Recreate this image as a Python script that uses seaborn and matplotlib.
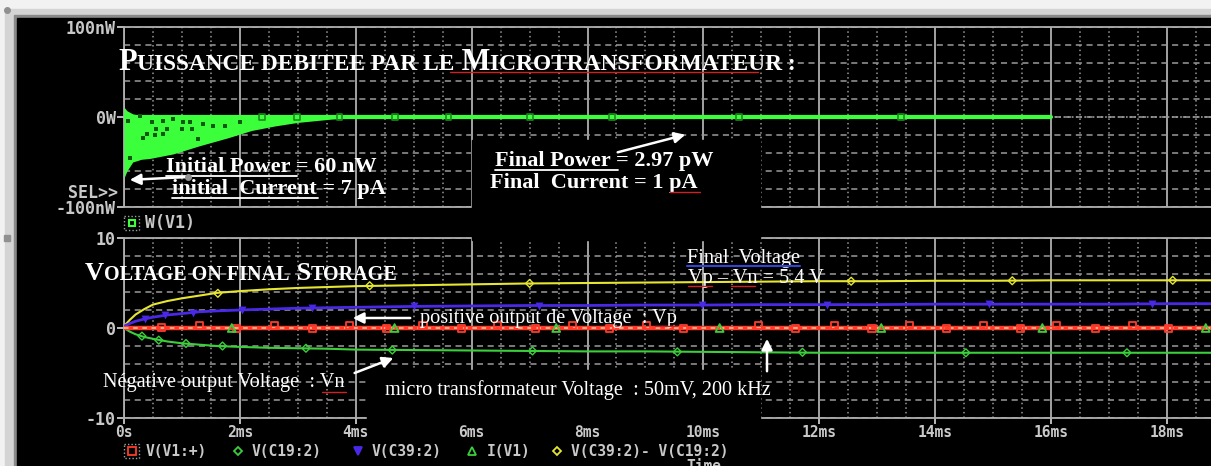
import matplotlib
matplotlib.use("Agg")
import matplotlib.pyplot as plt
import seaborn as sns
import pandas as pd
from matplotlib.patches import Rectangle
from matplotlib.ticker import MultipleLocator
from matplotlib.offsetbox import TextArea, HPacker, AnnotationBbox

# ---------------- data (time in ms) ----------------
# top panel W(V1): envelope of the 200 kHz power ripple, nW
p_time = [0, 0.05, 0.15, 0.3, 0.45, 0.85, 1.3, 1.8, 2.2, 2.6, 3.0, 3.6, 4.0, 4.5]
p_upper = [11, 7, 3.5, 1.5, 1.0, 0.8, 0.6, 0.5, 0.4, 0.3, 0.3, 0.2, 0.1, 0.0]
p_lower = [-68, -60, -50, -47, -46, -41, -32, -23, -15, -10, -6, -2.2, -1.0, -0.3]
p_line_time = [0, 16.0]
p_line = [0, 0]
p_mark_t = [2.38, 2.98, 3.72, 4.67, 5.6, 7.0, 8.43, 10.62, 13.41]
p_mark_v = [0, 0, 0, 0, 0, 0, 0, 0, 0]
# dark sample markers drawn inside the filled ripple
p_dot_t = [0.07, 0.28, 0.48, 0.68, 0.85, 1.01, 1.14, 1.37, 1.54, 1.74, 2.0,
           0.56, 0.74, 1.0, 1.17, 0.39, 0.54, 0.68, 0.33, 1.28, 0.1]
p_dot_v = [-4, 1, -5, -4, -2, -6, -6, -8, -10, -10, -6,
           -13, -13, -13, -13, -19, -20, -19, -23, -24, -46]

# bottom panel voltages, V
v_time = [0, 0.1, 0.2, 0.35, 0.5, 0.75, 1.0, 1.3, 1.6, 2.0, 2.5, 3.0, 3.5, 4.0,
          5.0, 6.0, 7.0, 8.0, 9.0, 10.0, 11.0, 12.0, 13.0, 14.0, 15.0, 16.0, 17.0, 18.0, 19.0]
v_diff = [0.2, 0.9, 1.5, 2.1, 2.6, 3.0, 3.3, 3.6, 3.9, 4.1, 4.3, 4.45, 4.55, 4.65,
          4.75, 4.85, 4.95, 5.0, 5.05, 5.1, 5.15, 5.2, 5.2, 5.25, 5.25, 5.3, 5.3, 5.3, 5.3]
v_pos = [0.2, 0.5, 0.75, 1.0, 1.2, 1.45, 1.6, 1.8, 1.9, 2.0, 2.1, 2.2, 2.25, 2.3,
         2.4, 2.45, 2.5, 2.5, 2.55, 2.55, 2.6, 2.6, 2.6, 2.65, 2.65, 2.65, 2.65, 2.7, 2.7]
v_neg = [0, -0.4, -0.7, -1.0, -1.2, -1.5, -1.7, -1.85, -2.0, -2.1, -2.2, -2.25, -2.3, -2.4,
         -2.45, -2.5, -2.55, -2.6, -2.6, -2.65, -2.7, -2.75, -2.75, -2.75, -2.75, -2.75, -2.75, -2.75, -2.75]
v_src_t = [0, 19.0]
v_src = [0, 0]

diff_mark_t = [1.62, 4.24, 7.0, 12.55, 15.33, 18.1]
diff_mark_v = [3.85, 4.7, 4.95, 5.2, 5.25, 5.3]
pos_mark_t = [0.36, 0.71, 1.19, 2.03, 3.24, 5.0, 7.17, 9.97, 12.14, 14.93, 17.74]
pos_mark_v = [0.95, 1.4, 1.7, 2.0, 2.2, 2.4, 2.5, 2.55, 2.6, 2.65, 2.7]
neg_mark_t = [0.31, 0.6, 1.07, 1.7, 3.14, 4.63, 7.05, 9.55, 11.71, 14.53, 17.31]
neg_mark_v = [-0.9, -1.35, -1.72, -2.0, -2.25, -2.45, -2.55, -2.65, -2.7, -2.75, -2.75]
src_mark_t = [0.65, 1.3, 1.94, 2.6, 3.25, 3.89, 4.53, 5.16, 5.82, 6.45, 7.1, 7.74, 8.38,
              9.02, 9.66, 10.95, 11.59, 12.26, 12.91, 13.55, 14.19, 14.83, 15.47, 16.1,
              16.76, 17.4, 18.03]
src_mark_v = [0.1, 0.3, -0.1, 0.3, -0.1, 0.3, -0.1, 0.3, -0.1, 0.3, -0.1, 0.3, -0.1,
              0.3, -0.1, 0.3, -0.1, 0.3, -0.1, 0.3, -0.1, 0.3, -0.1, 0.3, -0.1, 0.3, -0.1]
cur_mark_t = [1.86, 4.67, 7.46, 10.28, 13.07, 15.85, 18.67]
cur_mark_v = [0, 0, 0, 0, 0, 0, 0]

x_ticks = [0, 2, 4, 6, 8, 10, 12, 14, 16, 18]
x_tick_labels = ["0s", "2ms", "4ms", "6ms", "8ms", "10ms", "12ms", "14ms", "16ms", "18ms"]

# ---------------- style ----------------
sns.set_theme(style="dark", rc={"axes.facecolor": "black", "figure.facecolor": "#f2f2f2"})
plt.rcParams["font.family"] = ["DejaVu Sans Mono"]
plt.rcParams["font.weight"] = "bold"

W, H = 1211, 466
TICK_COL = "#c8c8c8"
GRID_COL = "#9a9a9a"
SERIF = "Liberation Serif"
MONO_SIZE = 12
BOTTOM_SIZE = 10.5

fig = plt.figure(figsize=(W / 100, H / 100), dpi=100)

# window frame + black plot window
bg = fig.add_axes([0, 0, 1, 1], zorder=-2)
bg.set_xlim(0, W)
bg.set_ylim(H, 0)
bg.axis("off")
bg.add_patch(Rectangle((5, 9), W, H, color="#d4d4d4"))
bg.add_patch(Rectangle((14, 15), W, H, color="#8a8a8a"))
bg.add_patch(Rectangle((17, 18), W, H, color="black"))
bg.plot([7], [238], marker="s", ms=4, color="#909090")
bg.plot([7], [10], marker="o", ms=4, color="#909090")

x_end = (W - 124) / 57.94


def style_axes(ax, ylim, yticks, ylabels, yminor):
    ax.set_facecolor("black")
    ax.set_xlim(0, x_end)
    ax.set_ylim(*ylim)
    ax.set_xticks(x_ticks)
    ax.xaxis.set_minor_locator(MultipleLocator(0.5))
    ax.set_yticks(yticks)
    ax.set_yticklabels(ylabels)
    ax.yaxis.set_minor_locator(MultipleLocator(yminor))
    ax.grid(False)
    ax.grid(which="major", axis="x", color="#b0b0b0", lw=1.3, ls="-")
    ax.grid(which="minor", axis="x", color=GRID_COL, lw=1.1, ls=(0, (1, 2)))
    ax.grid(which="both", axis="y", color=GRID_COL, lw=1.1, ls=(0, (4, 3)))
    for side in ["left", "bottom", "top"]:
        ax.spines[side].set_color("#b0b0b0")
        ax.spines[side].set_linewidth(1.3)
    ax.spines["right"].set_visible(False)
    ax.tick_params(axis="y", which="major", colors=TICK_COL, length=5, width=1.3,
                   labelsize=MONO_SIZE, pad=1, direction="out", left=True)
    ax.tick_params(axis="y", which="minor", length=0)
    ax.tick_params(axis="x", which="minor", length=0)
    ax.set_xlabel("")
    ax.set_ylabel("")


# ---------------- top panel: power ----------------
ax1 = fig.add_axes([124 / W, 1 - 207 / H, (W - 124) / W, 180 / H])
style_axes(ax1, (-100, 100), [-100, 0, 100], ["-100nW", "0W", "100nW"], 20)
ax1.tick_params(axis="x", which="major", length=0, labelbottom=False)

green = "#3cff3c"
ax1.fill_between(p_time, p_lower, p_upper, color=green, lw=0, zorder=3)
sns.lineplot(x=p_line_time, y=p_line, ax=ax1, color=green, lw=3, zorder=3)
ax1.plot([16.0, x_end], [0, 0], color=GRID_COL, lw=1.2, ls=(0, (1, 1.5)), zorder=2)
sns.scatterplot(x=p_mark_t, y=p_mark_v, ax=ax1, marker="s", s=18, facecolor="none",
                edgecolor="#1c8a1c", linewidth=1.2, zorder=4)
sns.scatterplot(x=p_dot_t, y=p_dot_v, ax=ax1, marker="s", s=9, color="#0d5a0d",
                linewidth=0, zorder=4)

# ---------------- bottom panel: voltages ----------------
ax2 = fig.add_axes([124 / W, 1 - 418 / H, (W - 124) / W, 180 / H])
style_axes(ax2, (-10, 10), [-10, 0, 10], ["-10", "0", "10"], 2)
ax2.set_xticklabels(x_tick_labels)
ax2.tick_params(axis="x", which="major", colors=TICK_COL, length=4, width=1.3,
                labelsize=BOTTOM_SIZE, pad=1, direction="out", bottom=True)

yellow, blue, vgreen, red = "#e6e632", "#4a28e6", "#3ccf3c", "#ff3a2a"
v_df = pd.DataFrame({"t": v_time, "diff": v_diff, "pos": v_pos, "neg": v_neg})
sns.lineplot(data=v_df, x="t", y="diff", ax=ax2, color=yellow, lw=1.5, zorder=3)
sns.lineplot(data=v_df, x="t", y="pos", ax=ax2, color=blue, lw=2, zorder=3)
sns.lineplot(data=v_df, x="t", y="neg", ax=ax2, color=vgreen, lw=1.5, zorder=3)
sns.lineplot(x=v_src_t, y=v_src, ax=ax2, color=red, lw=3.2, zorder=3)
ax2.plot(v_src_t, v_src, color="#ffd0a0", lw=1.1, ls=(0, (3, 3)), zorder=3)

sns.scatterplot(x=diff_mark_t, y=diff_mark_v, ax=ax2, marker="D", s=16, facecolor="none",
                edgecolor=yellow, linewidth=1, zorder=4)
sns.scatterplot(x=pos_mark_t, y=pos_mark_v, ax=ax2, marker="v", s=32, color=blue,
                linewidth=0, zorder=4)
sns.scatterplot(x=neg_mark_t, y=neg_mark_v, ax=ax2, marker="D", s=16, facecolor="none",
                edgecolor=vgreen, linewidth=1, zorder=4)
sns.scatterplot(x=src_mark_t, y=src_mark_v, ax=ax2, marker="s", s=26, facecolor="none",
                edgecolor=red, linewidth=1.3, zorder=4)
sns.scatterplot(x=cur_mark_t, y=cur_mark_v, ax=ax2, marker="^", s=32, facecolor="none",
                edgecolor=vgreen, linewidth=1.3, zorder=4)
ax2.set_xlabel("")
ax2.set_ylabel("")

# ---------------- overlay: annotations pasted on the screenshot ----------------
ov = fig.add_axes([0, 0, 1, 1], zorder=5)
ov.set_xlim(0, W)
ov.set_ylim(H, 0)
ov.axis("off")
ov.patch.set_alpha(0)

# black text boxes hiding the grid
ov.add_patch(Rectangle((472, 140), 288, 100, color="black", zorder=1))
ov.add_patch(Rectangle((367, 370), 393, 54, color="black", zorder=1))


def small_caps(x, y, parts):
    areas = [TextArea(t, textprops=dict(color="white", fontsize=s, family=SERIF,
                                        weight="bold")) for t, s in parts]
    box = HPacker(children=areas, align="baseline", pad=0, sep=0)
    ov.add_artist(AnnotationBbox(box, (x, y), xycoords="data", box_alignment=(0, 0.5),
                                 frameon=False, pad=0, zorder=5))


def label(x, y, s, size=16, bold=True, ha="left"):
    ov.text(x, y, s, color="white", fontsize=size, family=SERIF,
            weight="bold" if bold else "normal", ha=ha, va="center", zorder=5)


def uline(x0, x1, y, color="white", lw=1.3):
    ov.plot([x0, x1], [y, y], color=color, lw=lw, zorder=5)


def arrow(tail, head):
    ov.annotate("", xy=head, xytext=tail, zorder=6,
                arrowprops=dict(arrowstyle="-|>", color="white", lw=1.8, mutation_scale=16))


small_caps(118, 62, [("P", 22), ("UISSANCE DEBITEE PAR LE", 16.8), (" M", 22),
                     ("ICROTRANSFORMATEUR :", 16.8)])
uline(450, 758, 72, color="#d02020", lw=1)

label(166, 167, "Initial Power = 60 nW")
uline(166, 297, 176)
label(172, 189, "initial  Current = 7 pA")
uline(172, 318, 198)
arrow((188, 177), (127, 180))
ov.plot([188], [177], marker="o", ms=4, color="#909090", zorder=6)

label(495, 161, "Final Power = 2.97 pW")
uline(495, 618, 170)
label(490, 183, "Final  Current = 1 pA")
uline(670, 700, 192, color="#d02020", lw=1)
arrow((615, 153), (688, 134))

small_caps(85, 274, [("V", 19), ("OLTAGE ON FINAL", 14.5), (" S", 19), ("TORAGE", 14.5)])

NS = 14.6
label(687, 258, "Final  Voltage", size=NS, bold=False)
uline(687, 800, 266, color="#3048d0", lw=1.5)
label(688, 278, "Vp \u2013 Vn = 5.4 V", size=NS, bold=False)
uline(688, 712, 286, color="#d02020", lw=1)
uline(731, 755, 286, color="#d02020", lw=1)

label(420, 318, "positive output de Voltage  : Vp", size=NS, bold=False)
uline(655, 677, 326, color="#d02020", lw=1)
arrow((413, 318), (350, 318))

label(103, 383, "N\u00e9gative output Voltage  : Vn", size=NS, bold=False)
uline(322, 346, 392, color="#d02020", lw=1)
arrow((352, 374), (396, 357))

label(385, 390, "micro transformateur Voltage  : 50mV, 200 kHz", size=NS, bold=False)
arrow((767, 374), (767, 336))

# PSpice annotations and trace legends
mono = dict(color=TICK_COL, fontsize=MONO_SIZE, family="DejaVu Sans Mono", weight="bold")
leg = dict(mono, fontsize=BOTTOM_SIZE)
ov.text(118, 193, "SEL>>", ha="right", va="center", **mono)

ov.add_patch(Rectangle((124, 216), 15, 14, fill=False, ec="#a0a0a0", lw=1, ls=(0, (1, 1.5))))
ov.plot([131.5], [223], marker="s", ms=5, mfc="none", mec=green, mew=1.5)
ov.text(145, 223, "W(V1)", ha="left", va="center", **mono)

ov.add_patch(Rectangle((124, 444), 15, 14, fill=False, ec="#a0a0a0", lw=1, ls=(0, (1, 1.5))))
legend_items = [
    (131.5, "s", red, "none", "V(V1:+)", 146),
    (238, "D", vgreen, "none", "V(C19:2)", 252),
    (358, "v", blue, blue, "V(C39:2)", 372),
    (472, "^", vgreen, "none", "I(V1)", 487),
    (557, "D", yellow, "none", "V(C39:2)- V(C19:2)", 571),
]
for mx, mk, ec, fc, txt, tx in legend_items:
    ov.plot([mx], [451], marker=mk, ms=4.5 if mk == "D" else 5.5, mfc=fc, mec=ec, mew=1.3)
    ov.text(tx, 451, txt, ha="left", va="center", **leg)
ov.text(704, 459, "Time", ha="center", va="top", **leg)

fig.savefig("out.png", dpi=100, facecolor=fig.get_facecolor())
